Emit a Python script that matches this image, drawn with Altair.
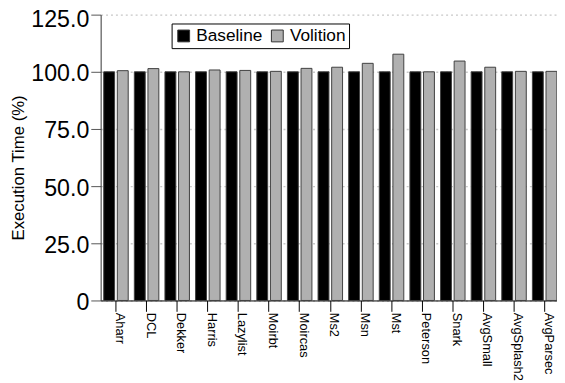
import altair as alt
import pandas as pd

categories = ["Aharr", "DCL", "Dekker", "Harris", "Lazylist", "Moirbt", "Moircas",
              "Ms2", "Msn", "Mst", "Peterson", "Snark", "AvgSmall", "AvgSplash2", "AvgParsec"]
baseline = [100.0, 100.0, 100.0, 100.0, 100.0, 100.0, 100.0,
            100.0, 100.0, 100.0, 100.0, 100.0, 100.0, 100.0, 100.0]
volition = [100.5, 101.4, 100.0, 100.8, 100.6, 100.2, 101.5,
            102.0, 103.7, 107.7, 100.0, 104.7, 102.0, 100.2, 100.2]
series = ["Baseline", "Volition"]
colors = ["#000000", "#b0b0b0"]
y_ticks = [0, 25, 50, 75, 100, 125]

rows = []
for c, b, v in zip(categories, baseline, volition):
    rows.append({"bench": c, "config": series[0], "value": b})
    rows.append({"bench": c, "config": series[1], "value": v})
df = pd.DataFrame(rows)

FONT = "Liberation Sans"

chart = alt.Chart(df).mark_bar(stroke="#404040", strokeWidth=1).encode(
    x=alt.X(
        "bench:N", sort=categories, title=None,
        scale=alt.Scale(range=[0, 466], paddingInner=0.2, paddingOuter=0.1),
        axis=alt.Axis(
            labelAngle=90, labelAlign="left", labelBaseline="alphabetic",
            labelFontSize=13, labelFont=FONT, labelColor="black",
            labelPadding=1, labelOverlap=False,
            tickSize=11, tickColor="black", domainColor="black",
            grid=False,
        ),
    ),
    xOffset=alt.XOffset("config:N", sort=series, scale=alt.Scale(paddingInner=0.2)),
    y=alt.Y(
        "value:Q",
        scale=alt.Scale(domain=[0, 125], nice=False, zero=True),
        axis=alt.Axis(
            values=y_ticks,
            labelExpr="datum.value == 0 ? '0' : format(datum.value, '.1f')",
            labelFontSize=23.5, labelFont=FONT, labelColor="black",
            labelPadding=2,
            labelOffset={"condition": {"test": "datum.value == 125", "value": 5.5}, "value": 2},
            tickSize=10, tickColor="#555555", domainColor="#333333",
            grid=True, gridColor="#c8c8c8", gridDash=[2, 3], gridWidth=1.5,
            title="Execution Time (%)", titleFontSize=17, titleFont=FONT,
            titleFontWeight="normal", titleColor="black", titlePadding=3,
            titleY=155,
        ),
    ),
    color=alt.Color(
        "config:N", sort=series,
        scale=alt.Scale(domain=series, range=colors),
        legend=alt.Legend(
            title=None, orient="none", legendX=72, legendY=9,
            direction="horizontal",
            labelFontSize=17.5, labelFont=FONT, labelColor="black",
            symbolType="square", symbolSize=144,
            symbolStrokeColor="#333333", symbolStrokeWidth=1,
            fillColor="white", strokeColor="black",
            padding=3.5, columnPadding=6, labelOffset=4,
        ),
    ),
).properties(
    width=463, height=290,
    autosize=alt.AutoSizeParams(type="none"),
    padding={"left": 94, "top": 4, "right": 0, "bottom": 81},
).configure_view(strokeWidth=0)

chart.save("out.html", embed_options={"renderer": "svg", "actions": False})
